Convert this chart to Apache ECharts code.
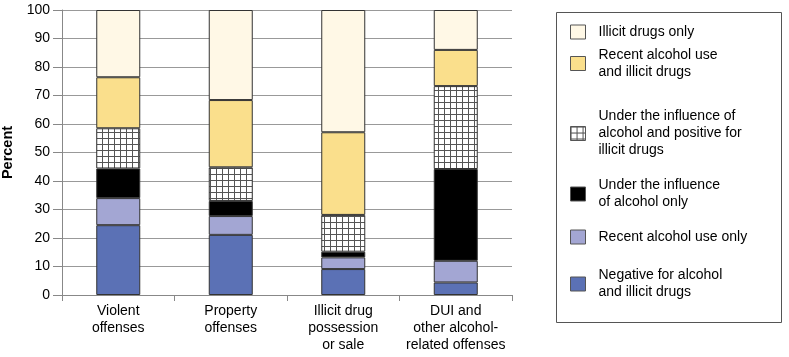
<!DOCTYPE html>
<html>
<head>
<meta charset="utf-8">
<script src="https://cdn.jsdelivr.net/npm/echarts@6/dist/echarts.min.js"></script>
<style>
html,body{margin:0;padding:0;background:#fff;}
#chart{width:789px;height:357px;}
</style>
</head>
<body>
<div id="chart"></div>
<script>
// categories and stacked shares (percent), bottom to top
var categories = ['Violent\noffenses', 'Property\noffenses', 'Illicit drug\npossession\nor sale', 'DUI and\nother alcohol-\nrelated offenses'];
var negative = [24.5, 21.1, 9.1, 4.4];
var recentAlcoholOnly = [9.5, 6.6, 4.1, 7.6];
var influenceOnly = [10.4, 5.3, 2.0, 32.2];
var influenceIllicit = [14.1, 11.8, 12.9, 29.1];
var recentAlcoholIllicit = [17.9, 23.6, 29.0, 12.7];
var illicitOnly = [23.6, 31.6, 42.9, 14.0];

var seriesNames = [
    'Negative for alcohol\nand illicit drugs',
    'Recent alcohol use only',
    'Under the influence\nof alcohol only',
    'Under the influence of\nalcohol and positive for\nillicit drugs',
    'Recent alcohol use\nand illicit drugs',
    'Illicit drugs only'
];

//网格图案
var cv = document.createElement('canvas');
cv.width = 6; cv.height = 6;
var ctx = cv.getContext('2d');
ctx.fillStyle = '#fff';
ctx.fillRect(0, 0, 6, 6);
ctx.strokeStyle = '#555';
ctx.lineWidth = 1;
ctx.beginPath();
ctx.moveTo(0.5, 0); ctx.lineTo(0.5, 6);
ctx.moveTo(0, 0.5); ctx.lineTo(6, 0.5);
ctx.stroke();

var colors = ['#5b71b5', '#a3a6d3', '#000000', {image: cv, repeat: 'repeat'}, '#fadf8c', '#fff8e6'];
var values = [negative, recentAlcoholOnly, influenceOnly, influenceIllicit, recentAlcoholIllicit, illicitOnly];

var font = "'Liberation Sans', Arial, sans-serif";

var series = [];
for (var i = 0; i < values.length; i++) {
    series.push({
        name: seriesNames[i],
        type: 'bar',
        stack: 'total',
        barWidth: 44,
        data: values[i],
        itemStyle: {
            color: colors[i],
            borderColor: '#333',
            borderWidth: 1
        }
    });
}

// legend items, top of list is the top segment
var legendTops = [23.5, 46.5, 108, 177, 228.5, 267];
var legendOrder = [5, 4, 3, 2, 1, 0];
var legends = [];
for (var j = 0; j < legendOrder.length; j++) {
    legends.push({
        data: [seriesNames[legendOrder[j]]],
        left: 570,
        top: legendTops[j],
        orient: 'vertical',
        padding: 0,
        icon: 'rect',
        itemWidth: 15,
        itemHeight: 14,
        selectedMode: false,
        textStyle: {
            fontFamily: font,
            fontSize: 14,
            lineHeight: 17,
            color: '#000',
            padding: [0, 0, 0, 8]
        },
        itemStyle: {
            borderColor: '#555',
            borderWidth: 1
        }
    });
}

var myChart = echarts.init(document.getElementById('chart'));
myChart.setOption({
    animation: false,
    textStyle: {fontFamily: font},
    grid: {left: 62, right: 277, top: 10, bottom: 62, containLabel: false, outerBoundsMode: 'none'},
    graphic: [{
        type: 'rect',
        shape: {x: 556.5, y: 12.5, width: 225, height: 310},
        style: {fill: 'none', stroke: '#555', lineWidth: 1}
    }],
    legend: legends,
    xAxis: {
        type: 'category',
        data: categories,
        axisLine: {lineStyle: {color: '#888'}},
        axisTick: {show: true, length: 6, lineStyle: {color: '#888'}},
        axisLabel: {
            margin: 8,
            fontSize: 14,
            lineHeight: 17,
            color: '#000',
            fontFamily: font,
            interval: 0
        }
    },
    yAxis: {
        type: 'value',
        min: 0,
        max: 100,
        interval: 10,
        name: 'Percent',
        nameLocation: 'middle',
        nameRotate: 90,
        nameGap: 40,
        nameTextStyle: {fontSize: 14.5, fontWeight: 'bold', color: '#000', fontFamily: font},
        axisLine: {show: true, lineStyle: {color: '#888'}},
        axisTick: {show: true, length: 9, lineStyle: {color: '#888'}},
        axisLabel: {margin: 12, fontSize: 14, color: '#000', fontFamily: font},
        splitLine: {lineStyle: {color: '#999'}}
    },
    series: series
});
</script>
</body>
</html>
